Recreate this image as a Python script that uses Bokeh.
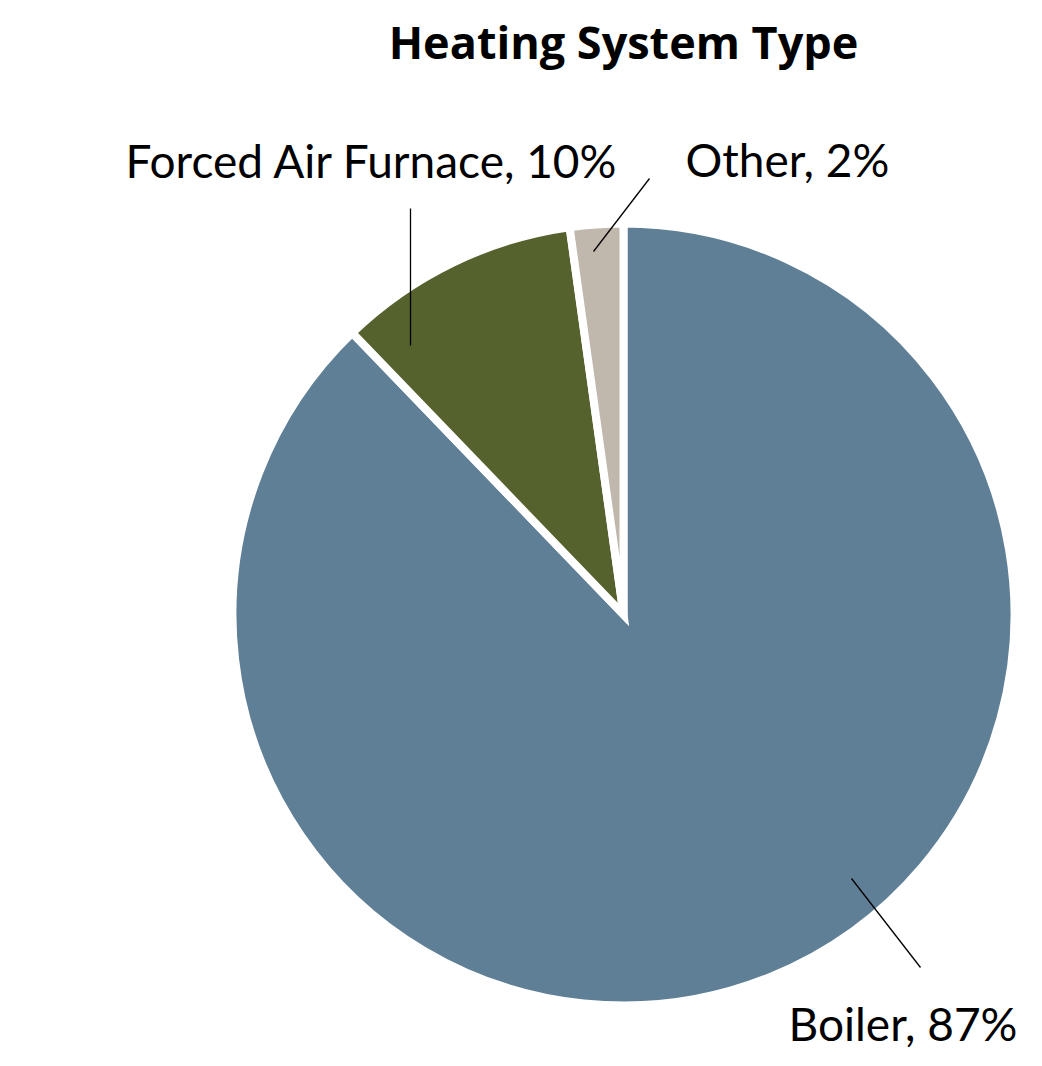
import math
from bokeh.plotting import figure
from bokeh.models import Range1d, ColumnDataSource
from bokeh.core.properties import value
from bokeh.embed import file_html
from bokeh.resources import INLINE

# ---- data ----
categories = ["Boiler", "Forced Air Furnace", "Other"]
shares = [87.8, 10.0, 2.2]
pct_labels = ["87%", "10%", "2%"]
colors = ["#5F7F96", "#55622D", "#C0B7AD"]
title_text = "Heating System Type"

# ---- layout (figure pixel space, y up) ----
W, H = 1026, 1050
CX, CY = 623, 436
R = 391
LABEL_FONT = "Lato"
# label anchor (left, baseline) and leader line ends, per category
label_pos = {"Boiler": (788, 27), "Forced Air Furnace": (125, 890), "Other": (685, 891)}
leader = {"Boiler": ((851, 172), (920, 83)),
          "Forced Air Furnace": ((410, 842), (410, 705)),
          "Other": ((649, 872), (593, 799))}

p = figure(width=W, height=H, x_range=Range1d(0, W), y_range=Range1d(0, H),
           output_backend="svg", toolbar_location=None, min_border=0)
p.axis.visible = False
p.grid.visible = False
p.outline_line_color = None
p.background_fill_color = "white"

total = sum(shares)
starts, ends = [], []
cum = 0.0
for s in shares:
    starts.append(math.pi / 2 - 2 * math.pi * cum / total)
    cum += s
    ends.append(math.pi / 2 - 2 * math.pi * cum / total)

src = ColumnDataSource(dict(x=[CX] * len(shares), y=[CY] * len(shares),
                            start=starts, end=ends, color=colors))
p.wedge(x="x", y="y", radius=R, radius_units="screen", start_angle="start",
        end_angle="end", direction="clock", fill_color="color",
        line_color="white", line_width=8, line_join="miter", source=src)

# leader lines
xs, ys = [], []
for c in categories:
    (x0, y0), (x1, y1) = leader[c]
    xs.append([x0, x1]); ys.append([y0, y1])
p.multi_line(xs=xs, ys=ys, line_color="black", line_width=1.3)

# labels
lx = [label_pos[c][0] for c in categories]
ly = [label_pos[c][1] for c in categories]
txt = [f"{c}, {l}" for c, l in zip(categories, pct_labels)]
p.text(x=lx, y=ly, text=txt, text_font=value(LABEL_FONT), text_font_size="46px",
       text_color="black", text_align="left", text_baseline="alphabetic")

# title
p.text(x=[623], y=[1009], text=[title_text], text_font=value("Open Sans"),
       text_font_size="45px", text_font_style="bold", text_color="black",
       text_align="center", text_baseline="alphabetic")

open("out.html", "w").write(file_html(p, INLINE))
